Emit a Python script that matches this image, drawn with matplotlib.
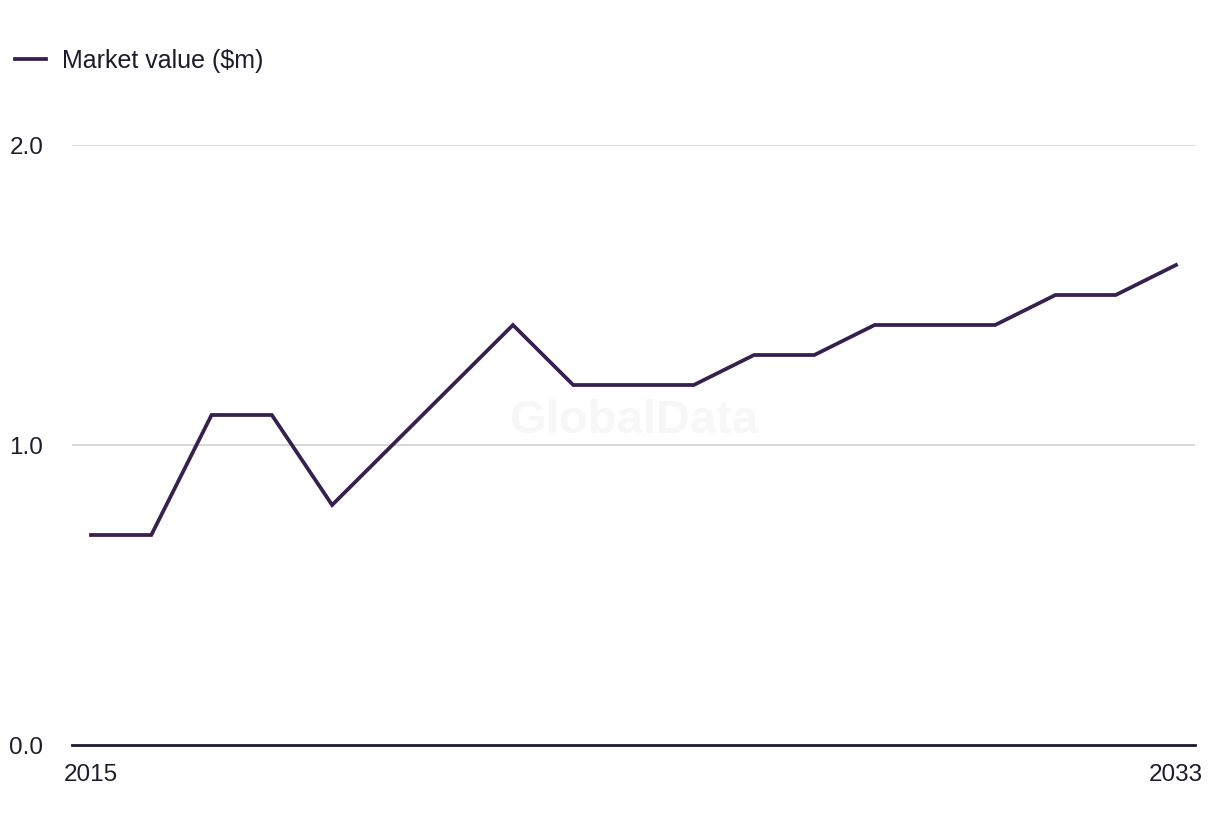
import matplotlib
matplotlib.use('Agg')
from matplotlib import pyplot as plt

plt.rcParams['font.family'] = ['Liberation Sans', 'DejaVu Sans']

years = list(range(2015, 2034))
market_value = [0.7, 0.7, 1.1, 1.1, 0.8, 1.0, 1.2, 1.4, 1.2, 1.2,
                1.2, 1.3, 1.3, 1.4, 1.4, 1.4, 1.5, 1.5, 1.6]
y_ticks = [0.0, 1.0, 2.0]
y_ticklabels = ['0.0', '1.0', '2.0']
x_ticks = [2015, 2033]

line_color = '#35204f'
text_color = '#1c1c2b'

fig = plt.figure(figsize=(12.2, 8.36), dpi=100)
ax = fig.add_axes([72 / 1220, 91 / 836, 1123 / 1220, 600 / 836])

ax.plot(years, market_value, color=line_color, linewidth=2.7,
        solid_joinstyle='miter', label='Market value ($m)')

ax.set_ylim(0, 2.0)
ax.set_xlim(2015 - 19 / 60.28, 2033 + 19 / 60.28)

ax.set_yticks(y_ticks)
ax.set_yticklabels(y_ticklabels)
ax.set_xticks(x_ticks)
ax.set_xticklabels([str(x) for x in x_ticks])

for y in y_ticks[1:]:
    ax.axhline(y, color='#d4d4d8', linewidth=1.3, zorder=0)

for s in ['top', 'right', 'left']:
    ax.spines[s].set_visible(False)
ax.spines['bottom'].set_color('#1a1a2e')
ax.spines['bottom'].set_linewidth(2.0)

ax.tick_params(axis='y', length=0, pad=45, labelsize=17.5, labelcolor=text_color)
for lbl in ax.get_yticklabels():
    lbl.set_horizontalalignment('left')
ax.tick_params(axis='x', length=0, pad=14, labelsize=17.5, labelcolor=text_color)

ax.text(0.5, 0.54, 'GlobalData', transform=ax.transAxes, ha='center',
        va='center', fontsize=34, fontweight='bold', color='#f7f7f7', zorder=0)

fig.legend(loc='center left', bbox_to_anchor=(2 / 1220, 1 - 61 / 836),
           frameon=False, fontsize=18, handlelength=1.25, handletextpad=0.65,
           borderpad=0, labelcolor=text_color)

fig.savefig('out.png', dpi=100, facecolor='white')
